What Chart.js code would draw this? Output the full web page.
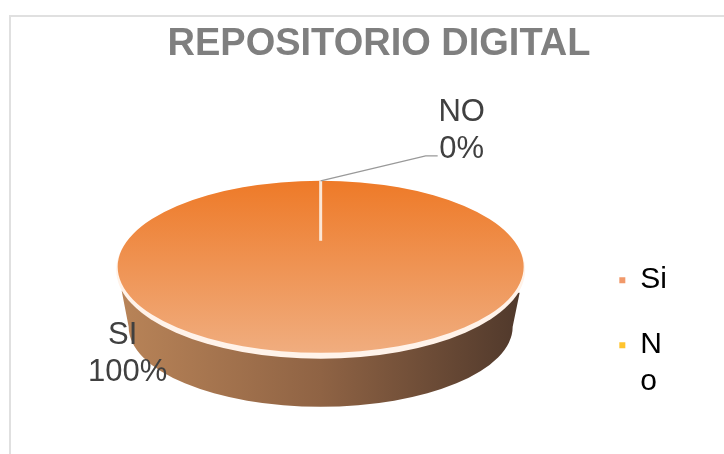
<!doctype html>
<html lang="es">
  <head>
    <meta charset="utf-8">
    <title>Repositorio digital</title>
    <style>
      * { margin: 0; padding: 0; }
      html, body { width: 724px; height: 454px; overflow: hidden; background: #fff; }
      .chartBox { position: absolute; left: 0; top: 0; width: 758px; height: 454px; }
      .frame {
        position: absolute; left: 9px; top: 15px; width: 715px; height: 439px;
        border-left: 2px solid #e0e0e0; border-top: 2px solid #e0e0e0;
      }
    </style>
  </head>
  <body>
    <div class="frame"></div>
    <div class="chartBox"><canvas id="myChart"></canvas></div>
    <script src="https://cdn.jsdelivr.net/npm/chart.js"></script>
    <script>
    const titleText = 'REPOSITORIO DIGITAL';
    const categories = ['SI', 'NO'];
    const values = [100, 0];
    const legendLabels = ['Si', ['N', 'o']];
    const legendColors = ['#f1996a', '#ffc42e'];

    // flattened look of the original 3d pie
    const squash = { rx: 203, ry: 86 };

    const pie3d = {
      id: 'pie3d',
      afterLayout(chart) {
        // the original frame runs past the window, title is centred on all of it
        chart.titleBlock.left = 0;
        chart.titleBlock.right = chart.width;
      },
      beforeDatasetsDraw(chart) {
        const arc = chart.getDatasetMeta(0).data[0];
        const ctx = chart.ctx;
        // side wall
        const wall = ctx.createLinearGradient(arc.x - squash.rx, 0, arc.x + squash.rx, 0);
        wall.addColorStop(0, '#b98458');
        wall.addColorStop(0.5, '#8f6344');
        wall.addColorStop(1, '#4f382b');
        ctx.save();
        ctx.fillStyle = wall;
        ctx.beginPath();
        ctx.moveTo(arc.x + squash.rx - 4, arc.y + 26);
        ctx.ellipse(arc.x, arc.y + 60, squash.rx - 11, 80, 0, 0, Math.PI);
        ctx.lineTo(arc.x - squash.rx + 4, arc.y + 24);
        ctx.closePath();
        ctx.fill();
        // pale rim under the top face
        ctx.fillStyle = '#fff3ea';
        ctx.beginPath();
        ctx.ellipse(arc.x, arc.y + 3, squash.rx + 1.5, squash.ry + 3, 0, 0, Math.PI * 2);
        ctx.fill();
        ctx.restore();
      },
      beforeDatasetDraw(chart) {
        const arc = chart.getDatasetMeta(0).data[0];
        const ctx = chart.ctx;
        ctx.save();
        ctx.translate(arc.x, arc.y);
        ctx.scale(squash.rx / arc.outerRadius, squash.ry / arc.outerRadius);
        ctx.translate(-arc.x, -arc.y);
      },
      afterDatasetDraw(chart) {
        chart.ctx.restore();
      },
      afterDatasetsDraw(chart, args, opts) {
        const meta = chart.getDatasetMeta(0);
        const ctx = chart.ctx;
        const seam = meta.data[1];
        const topY = seam.y + Math.sin(seam.startAngle) * squash.ry;
        // seam left by the empty slice, and its leader line
        ctx.save();
        ctx.strokeStyle = '#fbe6d6';
        ctx.lineWidth = 3;
        ctx.beginPath();
        ctx.moveTo(seam.x, topY);
        ctx.lineTo(seam.x, topY + opts.seamLength);
        ctx.stroke();
        ctx.strokeStyle = '#999999';
        ctx.lineWidth = 1.2;
        ctx.beginPath();
        ctx.moveTo(seam.x, topY);
        ctx.lineTo(seam.x + 105, topY - 25);
        ctx.lineTo(seam.x + 117, topY - 25);
        ctx.stroke();
        // slice labels
        ctx.fillStyle = '#404040';
        ctx.font = opts.font;
        ctx.textAlign = 'center';
        ctx.textBaseline = 'alphabetic';
        meta.data.forEach((el, i) => {
          const at = opts.offsets[i];
          ctx.fillText(categories[i], el.x + at.x1, el.y + at.y);
          ctx.fillText(values[i] + '%', el.x + at.x2, el.y + at.y + opts.lineGap);
        });
        ctx.restore();
      }
    };

    new Chart(document.getElementById('myChart'), {
      type: 'pie',
      data: {
        labels: categories,
        datasets: [{
          data: values,
          borderWidth: 0,
          backgroundColor(c) {
            const a = c.chart.chartArea;
            if (!a) return '#ed7d31';
            const g = c.chart.ctx.createLinearGradient(0, a.top, 0, a.bottom);
            g.addColorStop(0, '#ee7a28');
            g.addColorStop(1, '#f0ad7f');
            return g;
          }
        }]
      },
      options: {
        responsive: true,
        maintainAspectRatio: false,
        animation: false,
        layout: { padding: { left: 57, right: 81, top: 0, bottom: 15 } },
        plugins: {
          title: {
            display: true,
            text: titleText,
            color: '#7f7f7f',
            font: { family: '"Liberation Sans"', size: 38, weight: 'bold', lineHeight: 1.2 },
            padding: { top: 22, bottom: 27 }
          },
          legend: {
            position: 'right',
            align: 'end',
            labels: {
              boxWidth: 6,
              boxHeight: 6,
              padding: 35,
              color: '#595959',
              font: { family: '"Liberation Sans"', size: 30, lineHeight: 1.23 },
              generateLabels(chart) {
                return legendLabels.map((text, i) => ({
                  text, fillStyle: legendColors[i], strokeStyle: legendColors[i], lineWidth: 0, index: i
                }));
              }
            }
          },
          tooltip: { enabled: false },
          pie3d: {
            seamLength: 60,
            font: '31px "Liberation Sans"',
            lineGap: 37,
            offsets: [{ x1: -198, x2: -193, y: 77 }, { x1: 141, x2: 141, y: -146 }]
          }
        }
      },
      plugins: [pie3d]
    });
    </script>
  </body>
</html>
